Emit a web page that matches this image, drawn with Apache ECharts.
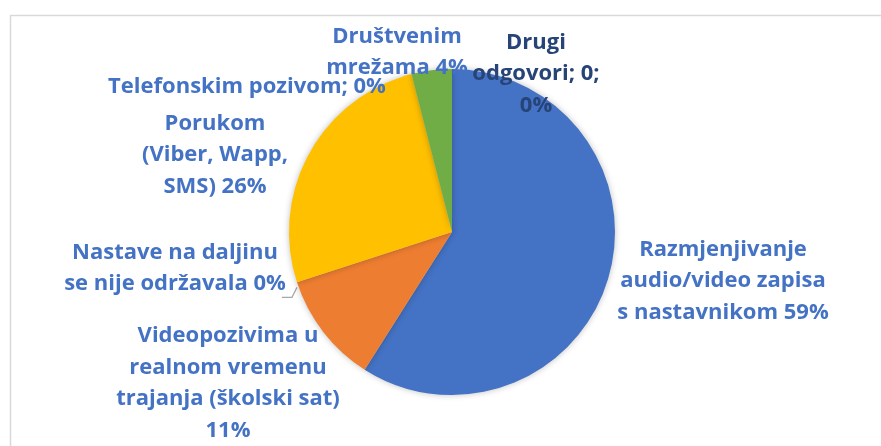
<!DOCTYPE html>
<html>
<head>
<meta charset="utf-8">
<script src="https://cdn.jsdelivr.net/npm/echarts@6/dist/echarts.min.js"></script>
<style>
  html, body { margin: 0; padding: 0; background: #fff; overflow: hidden; }
  #chart { width: 881px; height: 446px; }
</style>
</head>
<body>
<div id="chart"></div>
<script>
// kategorije i vrijednosti (%)
const categories = [
  'Razmjenjivanje\naudio/video zapisa\ns nastavnikom',
  'Videopozivima u\nrealnom vremenu\ntrajanja (školski sat)',
  'Nastave na daljinu\nse nije održavala',
  'Porukom\n(Viber, Wapp,\nSMS)',
  'Telefonskim pozivom',
  'Društvenim\nmrežama',
  'Drugi\nodgovori'
];
const values = [59, 11, 0, 26, 0, 4, 0];
const colors = ['#4472C4', '#ED7D31', '#A5A5A5', '#FFC000', '#5B9BD5', '#70AD47', '#264478'];
// kako je oznaka složena (Excel stil)
const labelSep = [' ', '\n', ' ', ' ', '; ', ' ', '; {v};\n'];

// položaji oznaka (centar bloka teksta)
const labelPos = [
  [723, 281], [228, 383], [175, 268], [215, 155], [247, 87], [397, 52], [536, 74]
];
const labelColors = ['#4472C4', '#4472C4', '#4472C4', '#4472C4', '#4472C4', '#4472C4', '#264478'];

const chart = echarts.init(document.getElementById('chart'));

const data = categories.map((name, i) => ({
  name: name,
  value: values[i],
  itemStyle: { color: colors[i] },
  label: { color: labelColors[i] },
  labelLine: { show: i === 2, length: 8, length2: 10, lineStyle: { color: '#A6A6A6', width: 1.2 } }
}));

const option = {
  animation: false,
  graphic: [{
    type: 'rect',
    left: 8, top: 13,
    shape: { width: 900, height: 460 },
    style: { fill: 'none', stroke: '#D9D9D9', lineWidth: 1.5 },
    silent: true
  }],
  series: [{
    type: 'pie',
    center: [452, 232],
    radius: 163,
    startAngle: 90,
    clockwise: true,
    avoidLabelOverlap: false,
    itemStyle: { shadowBlur: 6, shadowColor: 'rgba(0,0,0,0.25)' },
    label: {
      show: true,
      position: 'outside',
      fontFamily: 'Open Sans',
      fontWeight: 'bold',
      fontSize: 22,
      lineHeight: 31.5,
      align: 'center',
      formatter: p => {
        const i = p.dataIndex;
        return p.name + labelSep[i].replace('{v}', p.value) + Math.round(p.percent) + '%';
      }
    },
    labelLayout: p => {
      const res = {
        x: labelPos[p.dataIndex][0],
        y: labelPos[p.dataIndex][1],
        align: 'center',
        verticalAlign: 'middle'
      };
      // kratka vodilica kao u Excelu
      if (p.dataIndex === 2 && p.labelLinePoints) {
        const a = p.labelLinePoints[0];
        res.labelLinePoints = [[a[0], a[1] + 5], [a[0] - 5, a[1] + 15], [a[0] - 15, a[1] + 15]];
      }
      return res;
    },
    emphasis: { disabled: true },
    data: data
  }]
};
chart.setOption(option);
</script>
</body>
</html>
